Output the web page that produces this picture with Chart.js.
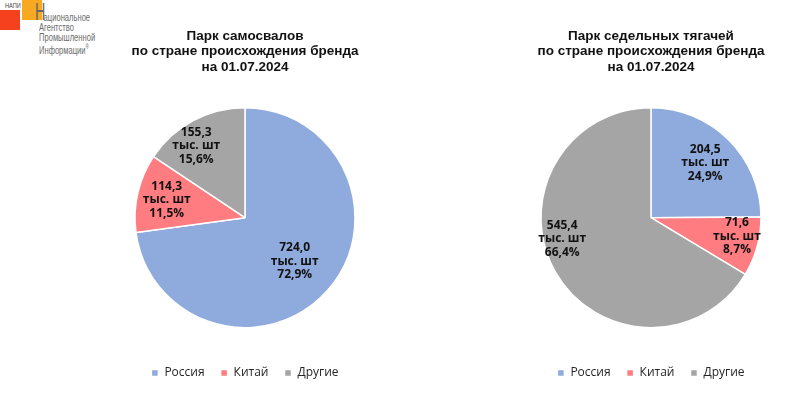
<!DOCTYPE html>
<html lang="ru">
<head>
<meta charset="UTF-8">
<title>Парк самосвалов и седельных тягачей</title>
<script src="https://cdn.jsdelivr.net/npm/chart.js"></script>
<style>
    body { margin: 0; background: #fff; width: 801px; height: 396px; position: relative; overflow: hidden; font-family: "Liberation Sans", Arial, sans-serif; }
    .box { position: absolute; top: 0; height: 396px; }
    .logo-red { position: absolute; left: 0; top: 10px; width: 20px; height: 20px; background: #f5411e; }
    .logo-orange { position: absolute; left: 22px; top: 0; width: 20px; height: 20px; background: #f8a91f; }
    .logo-abbr { position: absolute; left: 5px; top: 2px; font-size: 7px; color: #444; transform: scaleX(0.8); transform-origin: left top; }
    .logo-big { position: absolute; left: 35px; top: 1px; font-size: 23px; line-height: 23px; color: #666; transform: scaleX(0.62); transform-origin: left top; }
    .logo-text { position: absolute; left: 39px; top: 12px; font-size: 11.5px; line-height: 10px; color: #6b6b6b; transform: scaleX(0.66); transform-origin: left top; white-space: nowrap; }
    .logo-text span { padding-left: 7px; }
</style>
</head>
<body>
<div class="logo-red"></div>
<div class="logo-orange"></div>
<div class="logo-abbr">НАПИ</div>
<div class="logo-big">Н</div>
<div class="logo-text"><span>ациональное</span><br>Агентство<br>Промышленной<br>Информации<sup style="font-size:7px">®</sup></div>

<div class="box" style="left:0;width:490px"><canvas id="dumpChart"></canvas></div>
<div class="box" style="left:511px;width:280px"><canvas id="tractorChart"></canvas></div>

<script>
    const categories = ["Россия", "Китай", "Другие"];
    const dumpTrucks = [724.0, 114.3, 155.3];      // тыс. шт
    const tractors = [204.5, 71.6, 545.4];         // тыс. шт
    const dumpTitle = ["Парк самосвалов", "по стране происхождения бренда", "на 01.07.2024"];
    const tractorTitle = ["Парк седельных тягачей", "по стране происхождения бренда", "на 01.07.2024"];
    const unit = "тыс. шт";

    const colors = ["#8faadc", "#ff7c80", "#a5a5a5"];

    // где ставить подписи: доля радиуса и сдвиг угла (в градусах)
    const dumpLabelPos = [[0.6, 0], [0.73, 0], [0.79, -6]];
    const tractorLabelPos = [[0.7, 0], [0.8, -3], [0.83, 16]];

    function fmt(v) {
        return v.toFixed(1).replace(".", ",");
    }

    const sliceLabels = {
        id: "sliceLabels",
        afterDatasetsDraw(chart, args, opts) {
            const ctx = chart.ctx;
            const values = chart.data.datasets[0].data;
            const total = values.reduce((a, b) => a + b, 0);
            const meta = chart.getDatasetMeta(0);
            ctx.save();
            ctx.font = "bold 12px 'Open Sans', sans-serif";
            ctx.fillStyle = "#111";
            ctx.textAlign = "center";
            ctx.textBaseline = "middle";
            meta.data.forEach((arc, i) => {
                const p = arc.getProps(["x", "y", "startAngle", "endAngle", "outerRadius"], true);
                const pos = opts.pos[i];
                const mid = (p.startAngle + p.endAngle) / 2 + pos[1] * Math.PI / 180;
                const x = p.x + Math.cos(mid) * p.outerRadius * pos[0];
                const y = p.y + Math.sin(mid) * p.outerRadius * pos[0];
                const lines = [fmt(values[i]), unit, fmt(values[i] / total * 100) + "%"];
                lines.forEach((t, k) => ctx.fillText(t, x, y + (k - 1) * 13.5));
            });
            ctx.restore();
        }
    };

    function makePie(id, values, title, labelPos) {
        new Chart(document.getElementById(id), {
            type: "pie",
            data: {
                labels: categories,
                datasets: [{
                    data: values,
                    backgroundColor: colors,
                    borderColor: "#fff",
                    borderWidth: 1.5,
                    radius: 110
                }]
            },
            options: {
                responsive: true,
                maintainAspectRatio: false,
                animation: false,
                layout: { padding: { bottom: 7 } },
                plugins: {
                    title: {
                        display: true,
                        text: title,
                        color: "#111",
                        font: { family: "'Liberation Sans', Arial, sans-serif", size: 13.5, weight: "bold", lineHeight: 1.12 },
                        padding: { top: 29, bottom: 10 }
                    },
                    legend: {
                        position: "bottom",
                        labels: {
                            color: "#262626",
                            font: { family: "'Open Sans', sans-serif", size: 12 },
                            boxWidth: 7,
                            boxHeight: 7,
                            padding: 16
                        }
                    },
                    tooltip: { enabled: false },
                    sliceLabels: { pos: labelPos }
                }
            },
            plugins: [sliceLabels]
        });
    }

    makePie("dumpChart", dumpTrucks, dumpTitle, dumpLabelPos);
    makePie("tractorChart", tractors, tractorTitle, tractorLabelPos);
</script>
</body>
</html>
